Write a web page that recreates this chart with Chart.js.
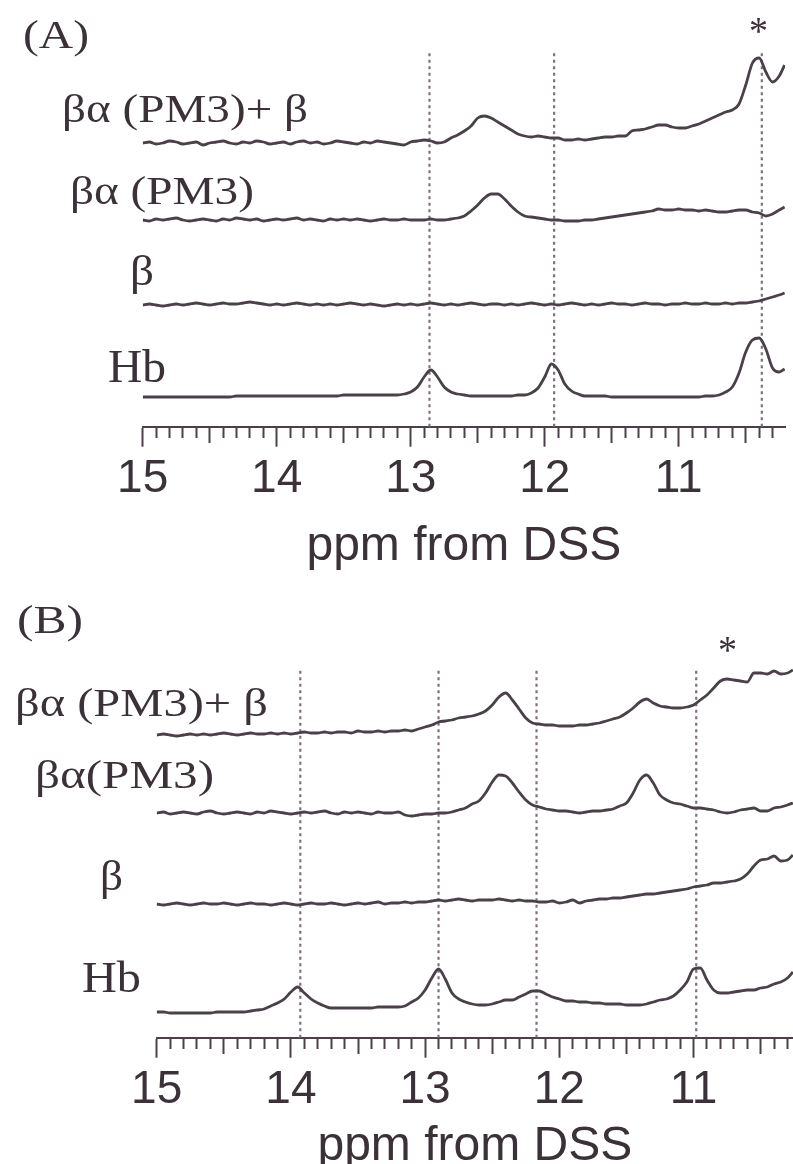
<!DOCTYPE html>
<html>
<head>
<meta charset="utf-8">
<script src="https://cdn.jsdelivr.net/npm/chart.js@4.4.1/dist/chart.umd.min.js"></script>
<style>
  html, body { margin: 0; padding: 0; background: #fff; }
  body { width: 793px; height: 1164px; position: relative; overflow: hidden; }
  canvas { position: absolute; left: 0; }
  #chartA { top: 0; }
  #chartB { top: 590px; }
  .lbl { position: absolute; font-family: 'Liberation Serif', 'Times New Roman', serif; color: #3b3239;
         line-height: 1; white-space: nowrap; transform-origin: 0 0; }
</style>
</head>
<body>
<canvas id="chartA" width="793" height="580" style="width:793px;height:580px"></canvas>
<canvas id="chartB" width="793" height="600" style="width:793px;height:600px"></canvas>
<script>
// chemical shift grid (ppm) for panel A
const ppmA = [15.00, 14.95, 14.90, 14.85, 14.80, 14.75, 14.70, 14.65, 14.60, 14.55,
              14.50, 14.45, 14.40, 14.35, 14.30, 14.25, 14.20, 14.15, 14.10, 14.05,
              14.00, 13.95, 13.90, 13.85, 13.80, 13.75, 13.70, 13.65, 13.60, 13.55,
              13.50, 13.45, 13.40, 13.35, 13.30, 13.25, 13.20, 13.15, 13.10, 13.05,
              13.00, 12.95, 12.90, 12.85, 12.80, 12.75, 12.70, 12.65, 12.60, 12.55,
              12.50, 12.45, 12.40, 12.35, 12.30, 12.25, 12.20, 12.15, 12.10, 12.05,
              12.00, 11.95, 11.90, 11.85, 11.80, 11.75, 11.70, 11.65, 11.60, 11.55,
              11.50, 11.45, 11.40, 11.35, 11.30, 11.25, 11.20, 11.15, 11.10, 11.05,
              11.00, 10.95, 10.90, 10.85, 10.80, 10.75, 10.70, 10.65, 10.60, 10.55,
              10.50, 10.45, 10.40, 10.35, 10.30, 10.25, 10.21];

// panel A intensities (arbitrary units)
const bapbA = [0, 1, -1, 0, 2, 1, -1, 0, 1, -2,
               0, 1, 2, 0, -1, 1, 0, 2, 1, -1,
               0, 1, -1, 1, 2, 0, 1, -1, 0, 2,
               1, 0, -1, 1, 0, 2, 1, 0, -1, -2,
               1, 2, 3, 2, 0, 1, 5, 8, 12, 17,
               25, 27, 25, 21, 17, 13, 9, 7, 6, 7,
               6, 5, 5, 3, 3, 4, 3, 4, 5, 6,
               6, 7, 7, 12, 13, 14, 16, 18, 18, 16,
               15, 15, 17, 19, 22, 25, 28, 31, 33, 39,
               58, 80, 85, 71, 61, 67, 78];
const bapA = [0, -1, 1, 0, 1, 2, 0, -1, 0, 1,
              0, -1, 1, 0, 2, 1, 0, 1, -1, 0,
              1, 0, 1, 2, 0, 1, 0, -1, 1, 0,
              1, 0, 1, 0, -1, 0, 1, 0, 0, 1,
              0, 0, 0, 1, 0, 0, 1, 2, 4, 9,
              15, 22, 26, 26, 21, 14, 8, 4, 3, 2,
              1, 0, 0, -1, -1, -1, 0, 0, 1, 2,
              3, 4, 5, 6, 7, 8, 9, 11, 10, 10,
              11, 10, 10, 9, 10, 9, 8, 8, 9, 10,
              10, 8, 7, 4, 6, 10, 13];
const betaA = [0, 1, 0, -1, 0, 1, 0, 1, 2, 1,
               0, 1, 2, 1, 1, 2, 3, 2, 1, 0,
               1, 0, 1, 2, 1, 0, 1, 0, 1, 0,
               1, 2, 1, 0, 1, 0, -1, 0, 1, 0,
               1, 0, 1, 2, 1, 0, 1, 0, 1, 2,
               1, 0, 1, 1, 0, 1, 0, 1, 2, 1,
               0, 1, 0, 1, 2, 1, 0, 1, 0, 1,
               2, 1, 1, 0, 1, 2, 1, 1, 0, 1,
               1, 2, 1, 1, 2, 1, 1, 2, 1, 2,
               2, 3, 4, 6, 8, 10, 12];
const hbA = [0, 0, 0, 0, 0, 0, 0, 0, 0, 0,
             0, 0, 0, 0, 1, 1, 1, 1, 1, 1,
             1, 1, 1, 1, 1, 1, 1, 1, 1, 1,
             2, 2, 2, 2, 2, 2, 2, 2, 2, 3,
             5, 10, 20, 27, 20, 10, 5, 3, 2, 1,
             1, 1, 1, 1, 1, 1, 2, 2, 4, 9,
             20, 33, 27, 13, 6, 3, 1, 1, 1, 1,
             0, 0, 0, 0, 0, 0, 0, 0, 0, 0,
             0, 0, 0, 0, 1, 1, 2, 5, 10, 24,
             45, 57, 59, 48, 29, 25, 28];
const markersA = [12.86, 11.93, 10.38];

// chemical shift grid (ppm) for panel B
const ppmB = [15.00, 14.95, 14.90, 14.85, 14.80, 14.75, 14.70, 14.65, 14.60, 14.55,
              14.50, 14.45, 14.40, 14.35, 14.30, 14.25, 14.20, 14.15, 14.10, 14.05,
              14.00, 13.95, 13.90, 13.85, 13.80, 13.75, 13.70, 13.65, 13.60, 13.55,
              13.50, 13.45, 13.40, 13.35, 13.30, 13.25, 13.20, 13.15, 13.10, 13.05,
              13.00, 12.95, 12.90, 12.85, 12.80, 12.75, 12.70, 12.65, 12.60, 12.55,
              12.50, 12.45, 12.40, 12.35, 12.30, 12.25, 12.20, 12.15, 12.10, 12.05,
              12.00, 11.95, 11.90, 11.85, 11.80, 11.75, 11.70, 11.65, 11.60, 11.55,
              11.50, 11.45, 11.40, 11.35, 11.30, 11.25, 11.20, 11.15, 11.10, 11.05,
              11.00, 10.95, 10.90, 10.85, 10.80, 10.75, 10.70, 10.65, 10.60, 10.55,
              10.50, 10.45, 10.40, 10.35, 10.30, 10.26];

// panel B intensities (arbitrary units)
const bapbB = [0, 1, 0, -1, 0, 1, 0, 1, 0, 1,
               2, 1, 0, 1, 2, 1, 1, 2, 1, 2,
               1, 2, 3, 2, 2, 3, 2, 3, 3, 2,
               4, 3, 3, 4, 3, 4, 4, 5, 4, 6,
               8, 10, 13, 14, 15, 17, 18, 19, 21, 24,
               30, 38, 42, 35, 26, 17, 12, 11, 10, 10,
               9, 9, 9, 10, 10, 11, 12, 14, 16, 18,
               22, 27, 33, 36, 32, 29, 28, 27, 27, 28,
               30, 35, 40, 47, 54, 56, 55, 54, 53, 62,
               62, 61, 64, 61, 62, 65];
const bapB = [0, 1, -1, 0, 1, 0, -1, 1, 2, 0,
              -1, 0, 1, 0, -1, 1, 0, 2, 1, 0,
              -1, 0, 1, 0, 1, 2, 0, -1, 1, 0,
              1, 0, -1, 1, 0, 0, 1, -2, -3, -2,
              -1, -1, 0, 0, 1, 3, 5, 9, 12, 20,
              31, 38, 37, 30, 21, 13, 8, 6, 4, 3,
              2, 2, 1, 0, 1, 2, 2, 3, 4, 7,
              10, 20, 33, 38, 30, 18, 13, 10, 9, 7,
              5, 5, 4, 3, 1, 0, 1, 3, 4, 5,
              2, 2, 5, 6, 8, 10];
const betaB = [0, -1, 0, 1, 0, -1, 0, 1, 0, 0,
               1, 0, -1, 0, 1, 0, 0, -1, 0, 1,
               0, -1, 0, 1, 0, 0, 1, 0, -1, 0,
               1, 0, 1, 2, 0, 1, 1, 2, 1, 2,
               2, 3, 4, 3, 4, 5, 4, 3, 4, 4,
               4, 5, 4, 3, 4, 3, 3, 2, 2, 3,
               1, 2, 4, 1, 3, 4, 5, 5, 6, 6,
               7, 8, 9, 10, 10, 11, 12, 13, 14, 15,
               17, 18, 19, 21, 21, 22, 23, 25, 30, 38,
               44, 45, 48, 43, 44, 49];
const hbB = [0, 0, -1, -1, -1, -1, -1, -1, -1, 0,
             0, 0, 0, 0, 1, 2, 3, 6, 9, 13,
             20, 25, 19, 13, 9, 6, 4, 4, 4, 4,
             4, 4, 4, 5, 5, 5, 5, 6, 10, 14,
             22, 34, 43, 33, 19, 13, 10, 8, 7, 7,
             8, 10, 12, 12, 15, 18, 21, 21, 18, 15,
             13, 11, 11, 10, 10, 9, 9, 8, 8, 8,
             7, 7, 7, 8, 10, 12, 13, 16, 22, 30,
             43, 44, 32, 22, 19, 19, 20, 21, 22, 22,
             24, 25, 28, 30, 34, 40];
const markersB = [13.93, 12.90, 12.17, 10.98];

const majorTicks = [15, 14, 13, 12, 11];

// vertical stacking of the traces (top to bottom)
const offsetsA = [283.7, 206.7, 121.7, 29.7];
const offsetsB = [302.7, 224.7, 133.7, 25.7];

const traceColor = '#4a4049';
const dotColor = '#7f707c';
const axisColor = '#4a4049';
const textColor = '#3b3239';
const sansFont = "'Liberation Sans', Arial, Helvetica, sans-serif";

function isMajor(v) { return majorTicks.some(m => Math.abs(m - v) < 1e-6); }
function isHalf(v) { return Math.abs(v * 2 - Math.round(v * 2)) < 1e-6; }

function tickValues(xMin) {
    const vals = [];
    for (let t = Math.ceil(xMin * 10 - 1e-6); t <= 150; t++) vals.push(t / 10);
    return vals;
}

function makeChart(id, ppm, traces, offsets, markers, markerTop, xMin, geom) {
    const datasets = traces.map((vals, k) => ({
        data: ppm.map((p, i) => ({ x: p, y: vals[i] + offsets[k] })),
        borderColor: traceColor,
        borderWidth: 2.8,
        pointRadius: 0,
        fill: false,
        cubicInterpolationMode: 'monotone',
        order: 0
    }));
    // dotted reference lines
    markers.forEach(p => datasets.push({
        data: [{ x: p, y: 0 }, { x: p, y: markerTop }],
        borderColor: dotColor,
        borderWidth: 2.2,
        borderDash: [3, 3.5],
        pointRadius: 0,
        order: 1
    }));

    return new Chart(document.getElementById(id), {
        type: 'line',
        data: { datasets: datasets },
        options: {
            responsive: false,
            animation: false,
            events: [],
            layout: { padding: geom.padding },
            plugins: { legend: { display: false }, tooltip: { enabled: false } },
            scales: {
                x: {
                    type: 'linear',
                    reverse: true,
                    min: xMin,
                    max: 15,
                    afterBuildTicks: axis => { axis.ticks = tickValues(xMin).map(v => ({ value: v })); },
                    afterFit: scale => { scale.height = geom.axisHeight; },
                    border: { display: true, color: axisColor, width: 2 },
                    grid: {
                        drawOnChartArea: false,
                        drawTicks: true,
                        tickLength: 20,
                        tickWidth: 2,
                        tickColor: axisColor,
                        tickBorderDash: ctx => {
                            const v = ctx.tick ? ctx.tick.value : 0;
                            if (isMajor(v)) return [];
                            return isHalf(v) ? [15, 100] : [10, 100];
                        }
                    },
                    ticks: {
                        autoSkip: false,
                        maxRotation: 0,
                        minRotation: 0,
                        padding: 5,
                        color: textColor,
                        font: { family: sansFont, size: 46 },
                        callback: v => isMajor(v) ? String(Math.round(v)) : ''
                    },
                    title: {
                        display: true,
                        text: 'ppm from DSS',
                        color: textColor,
                        font: { family: sansFont, size: 48 },
                        padding: 0
                    }
                },
                y: { display: false, min: 0, max: geom.yMax }
            }
        }
    });
}

makeChart('chartA', ppmA, [bapbA, bapA, betaA, hbA], offsetsA, markersA, 376.7, 10.207,
    { padding: { left: 142.7, right: 8, top: 10, bottom: 4.3 }, axisHeight: 149, yMax: 416.7 });
makeChart('chartB', ppmB, [bapbB, bapB, betaB, hbB], offsetsB, markersB, 367.7, 10.259,
    { padding: { left: 156.7, right: 0, top: 20, bottom: 14.2 }, axisHeight: 138.1, yMax: 427.7 });

// trace labels, panel letters and asterisks
function addLabel(text, left, baseline, size, width) {
    const el = document.createElement('div');
    el.className = 'lbl';
    el.textContent = text;
    el.style.fontSize = size + 'px';
    el.style.left = left + 'px';
    el.style.top = (baseline - 0.8375 * size) + 'px';
    document.body.appendChild(el);
    const w = el.getBoundingClientRect().width;
    el.style.transform = 'scaleX(' + (width / w).toFixed(3) + ')';
}

addLabel('(A)', 23, 48, 40, 66);
addLabel('βα (PM3)+ β', 62, 122, 40, 246);
addLabel('βα (PM3)', 70, 204, 41, 184);
addLabel('β', 130, 285, 42, 24);
addLabel('Hb', 108, 383, 46, 58);
addLabel('*', 749, 44, 40, 19);

addLabel('(B)', 17, 633, 40, 66);
addLabel('βα (PM3)+ β', 15, 716, 40, 253);
addLabel('βα(PM3)', 35, 788, 41, 179);
addLabel('β', 100, 890, 42, 23);
addLabel('Hb', 82, 993, 45, 59);
addLabel('*', 718, 663, 40, 19);
</script>
</body>
</html>
